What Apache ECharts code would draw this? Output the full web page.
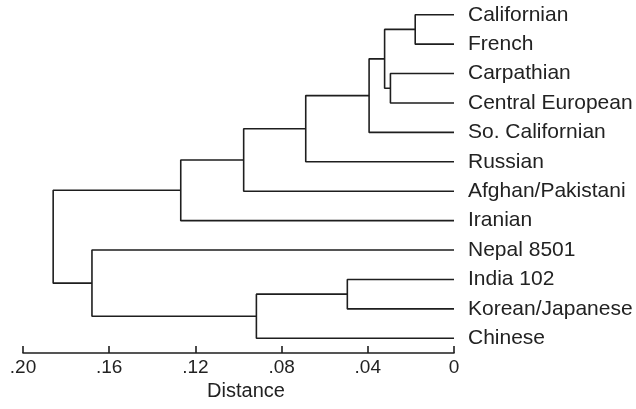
<!DOCTYPE html>
<html>
<head>
<meta charset="utf-8">
<script src="https://cdn.jsdelivr.net/npm/echarts@6/dist/echarts.min.js"></script>
<style>
  html, body { margin: 0; padding: 0; background: #fff; }
  #chart { width: 636px; height: 409px; }
</style>
</head>
<body>
<div id="chart"></div>
<script>
// leaves, top to bottom
const leaves = ['Californian', 'French', 'Carpathian', 'Central European', 'So. Californian',
  'Russian', 'Afghan/Pakistani', 'Iranian', 'Nepal 8501', 'India 102', 'Korean/Japanese', 'Chinese']
// linkage: ids < 12 are leaves, id 12+k is merge k
const linkLeft = [0, 2, 12, 14, 15, 16, 17, 9, 19, 8, 18]
const linkRight = [1, 3, 13, 4, 5, 6, 7, 10, 11, 20, 21]
const linkHeight = [0.018, 0.0295, 0.0322, 0.0394, 0.0688, 0.0976, 0.1268, 0.0495, 0.0917, 0.168, 0.186]
const tickLabels = ['0', '.04', '.08', '.12', '.16', '.20']

const n = leaves.length
const nodeY = []
const nodeH = []
const pos = (id) => id < n ? [0, id] : [nodeH[id - n], nodeY[id - n]]

const series = []
linkHeight.forEach((h, k) => {
  const a = pos(linkLeft[k])
  const b = pos(linkRight[k])
  nodeH.push(h)
  nodeY.push((a[1] + b[1]) / 2)
  series.push({
    type: 'line',
    yAxisIndex: 0,
    data: [[a[0], a[1]], [h, a[1]], [h, b[1]], [b[0], b[1]]],
    symbol: 'none',
    silent: true,
    lineStyle: { color: '#1e1e1e', width: 1.6 }
  })
})

const chart = echarts.init(document.getElementById('chart'))
chart.setOption({
  animation: false,
  grid: { left: 23, right: 182, top: 0, bottom: 56 },
  xAxis: {
    type: 'value',
    inverse: true,
    min: 0,
    max: 0.2,
    interval: 0.04,
    name: 'Distance',
    nameLocation: 'middle',
    nameGap: 28,
    nameTextStyle: { fontFamily: 'Liberation Sans', fontSize: 20, color: '#222', padding: [0, 0, 0, 15] },
    axisLine: { onZero: false, lineStyle: { color: '#1e1e1e', width: 1.6 } },
    axisTick: { inside: true, length: 7, lineStyle: { color: '#1e1e1e', width: 1.6 } },
    axisLabel: {
      margin: 5,
      fontFamily: 'Liberation Sans',
      fontSize: 19,
      color: '#222',
      formatter: (v) => tickLabels[Math.round(v / 0.04)]
    },
    splitLine: { show: false }
  },
  yAxis: [
    {
      type: 'value',
      inverse: true,
      min: -0.5,
      max: n - 0.5,
      show: false
    },
    {
      type: 'category',
      inverse: true,
      position: 'right',
      data: leaves,
      axisLine: { show: false },
      axisTick: { show: false },
      axisLabel: {
        interval: 0,
        margin: 14,
        fontFamily: 'Liberation Sans',
        fontSize: 21,
        color: '#222'
      },
      splitLine: { show: false }
    }
  ],
  series: series
})
</script>
</body>
</html>
